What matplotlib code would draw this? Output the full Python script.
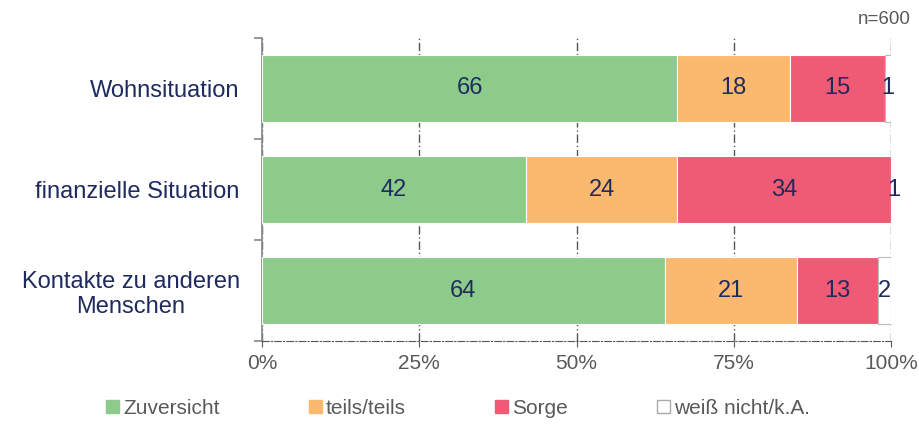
import numpy as np
import matplotlib.pyplot as plt
from matplotlib.patches import Patch

plt.rcParams['font.family'] = ['Liberation Sans', 'DejaVu Sans']

# categories and shares in percent
categories = ['Wohnsituation', 'finanzielle Situation', 'Kontakte zu anderen\nMenschen']
zuversicht = [66, 42, 64]
teils = [18, 24, 21]
sorge = [15, 34, 13]
weiss_nicht = [1, 1, 2]
series_names = ['Zuversicht', 'teils/teils', 'Sorge', 'weiß nicht/k.A.']
xtick_vals = [0, 25, 50, 75, 100]
xtick_labels = ['0%', '25%', '50%', '75%', '100%']

colors = ['#8dcb8a', '#fbb970', '#ef5a74', '#ffffff']
navy = '#1f2a5e'
grey = '#595959'

series = [zuversicht, teils, sorge, weiss_nicht]

fig = plt.figure(figsize=(9.2, 4.25), dpi=100)
ax = fig.add_axes([0.2848, 0.1976, 0.6837, 0.713])

y = np.arange(len(categories))
left = np.zeros(len(categories))
for vals, col, name in zip(series, colors, series_names):
    vals = np.array(vals, dtype=float)
    edge = '#bbbbbb' if col == '#ffffff' else 'white'
    bars = ax.barh(y, vals, left=left, height=0.66, color=col,
                   edgecolor=edge, linewidth=0.8, zorder=3)
    for b, v in zip(bars, vals):
        ax.text(b.get_x() + b.get_width() / 2, b.get_y() + b.get_height() / 2,
                f'{v:.0f}', ha='center', va='center', color=navy,
                fontsize=17, zorder=4)
    left += vals

ax.set_xlim(0, 100)
ax.set_ylim(2.5, -0.5)

# dashed grid and frame
ax.set_xticks(xtick_vals)
ax.set_xticklabels(xtick_labels, color=grey, fontsize=15)
ax.tick_params(axis='x', length=4, color=grey, pad=5)
ax.xaxis.grid(True, color='#555555', linestyle=(0, (6, 2, 1, 2)), linewidth=1, zorder=1)

ax.set_yticks(y)
ax.set_yticklabels(categories, color=navy, fontsize=17, ha='right',
                   multialignment='center')
ax.tick_params(axis='y', which='major', length=0, pad=16)
ax.set_yticks([-0.5, 0.5, 1.5, 2.5], minor=True)
ax.tick_params(axis='y', which='minor', length=6, color='#888888', width=1.2)

for s in ['top', 'right']:
    ax.spines[s].set_visible(False)
ax.spines['left'].set_color('#888888')
ax.spines['left'].set_linewidth(1.2)
ax.spines['bottom'].set_color('#555555')
ax.spines['bottom'].set_linestyle((0, (6, 2, 1, 2)))

fig.text(0.99, 0.955, 'n=600', ha='right', va='center', color=grey, fontsize=13.5)

handles = [Patch(facecolor=c, edgecolor=('#aaaaaa' if c == '#ffffff' else c)) for c in colors]
fig.legend(handles, series_names, loc='center', bbox_to_anchor=(0.498, 0.04), ncol=4,
           frameon=False, fontsize=15, handlelength=0.6, handleheight=0.6,
           handletextpad=0.2, columnspacing=4.3, labelcolor=grey)

fig.savefig('out.png', dpi=100)
